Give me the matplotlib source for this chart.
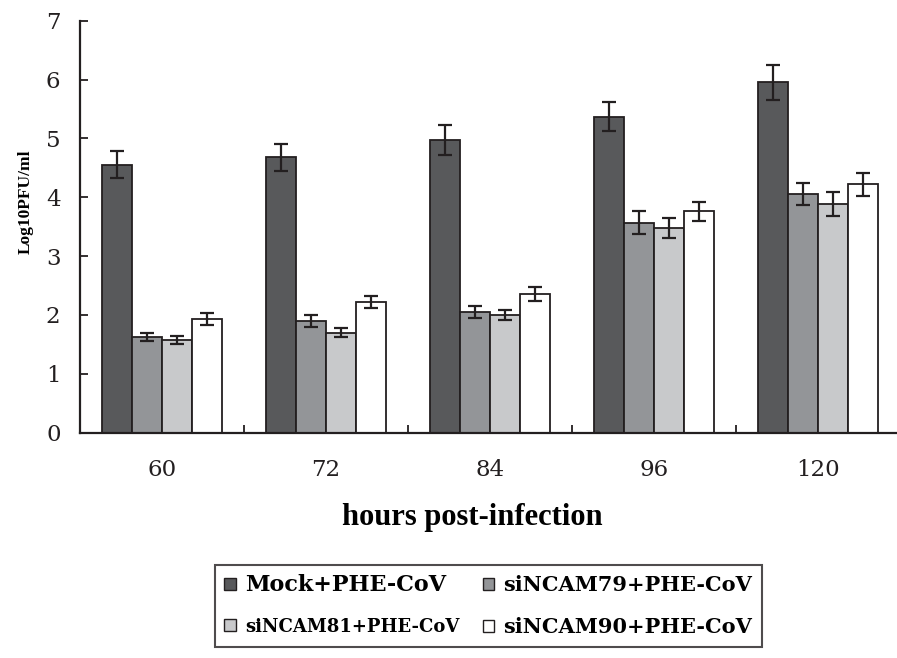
import numpy as np
import matplotlib
matplotlib.use("Agg")
from matplotlib import pyplot as plt

hours = ["60", "72", "84", "96", "120"]
series = ["Mock+PHE-CoV", "siNCAM79+PHE-CoV", "siNCAM81+PHE-CoV", "siNCAM90+PHE-CoV"]
mock = [4.55, 4.68, 4.97, 5.37, 5.95]
mock_err = [0.23, 0.23, 0.25, 0.25, 0.30]
si79 = [1.63, 1.90, 2.05, 3.57, 4.06]
si79_err = [0.07, 0.10, 0.10, 0.20, 0.19]
si81 = [1.57, 1.70, 2.00, 3.47, 3.89]
si81_err = [0.07, 0.08, 0.08, 0.17, 0.20]
si90 = [1.93, 2.22, 2.35, 3.76, 4.22]
si90_err = [0.10, 0.10, 0.12, 0.16, 0.20]

colors = ["#58595b", "#939598", "#c8c9cb", "#ffffff"]
edge = "#231f20"

fig = plt.figure(figsize=(8.97, 6.58), dpi=100)
ax = fig.add_axes([80 / 897, 1 - 432.7 / 658, 820 / 897, 412 / 658])

x = np.arange(len(hours))
width = 0.183
bars = []
for i, (vals, errs) in enumerate(zip([mock, si79, si81, si90],
                                     [mock_err, si79_err, si81_err, si90_err])):
    pos = x + (i - 1.5) * width
    b = ax.bar(pos, vals, width, color=colors[i], edgecolor=edge, linewidth=1.3,
               label=series[i], zorder=2)
    ax.errorbar(pos, vals, yerr=errs, fmt='none', ecolor=edge, elinewidth=1.6,
                capsize=5, capthick=1.6, zorder=3)
    bars.append(b)

ax.set_xlim(-0.5, 4.5)
ax.set_ylim(0, 7)
ax.set_yticks(range(8))
ax.set_xticks(x)
ax.set_xticklabels(hours)
ax.set_xticks(x[:-1] + 0.5, minor=True)
for s in ["top", "right"]:
    ax.spines[s].set_visible(False)
for s in ["left", "bottom"]:
    ax.spines[s].set_linewidth(1.6)
    ax.spines[s].set_color(edge)

for lab in ax.get_xticklabels() + ax.get_yticklabels():
    lab.set_fontfamily("DejaVu Serif")
    lab.set_fontsize(16.5)
ax.tick_params(axis='y', direction='in', length=6, width=1.3, pad=14, colors=edge)
ax.tick_params(axis='x', which='major', length=0, pad=19, colors=edge)
ax.tick_params(axis='x', which='minor', direction='in', length=6, width=1.3, colors=edge)

ax.set_ylabel("Log10PFU/ml", fontfamily="Liberation Serif", fontweight="bold", fontsize=12.5)
ax.yaxis.set_label_coords(-0.056, 0.56)
fig.text(472 / 897, 1 - 517 / 658, "hours post-infection", ha="center", va="center",
         fontfamily="Liberation Serif", fontweight="bold", fontsize=22)

# legend fills column-wise, so reorder to get Mock/79 on row one
order = [0, 2, 1, 3]
leg = fig.legend([bars[i] for i in order], [series[i] for i in order], ncol=2,
                 loc="upper left", bbox_to_anchor=(215 / 897, 1 - 565 / 658),
                 prop=dict(family="DejaVu Serif", weight="bold", size=15),
                 frameon=True, fancybox=False, edgecolor=edge, handlelength=0.55,
                 handleheight=0.55, handletextpad=0.45, columnspacing=1.1,
                 borderpad=0.45, labelspacing=1.05, borderaxespad=0)
leg.get_frame().set_linewidth(1.5)
texts = leg.get_texts()
texts[0].set_fontsize(16)
texts[1].set_fontsize(13)
for h in leg.legend_handles:
    h.set_linewidth(1.0)

fig.savefig("out.png", dpi=100)
